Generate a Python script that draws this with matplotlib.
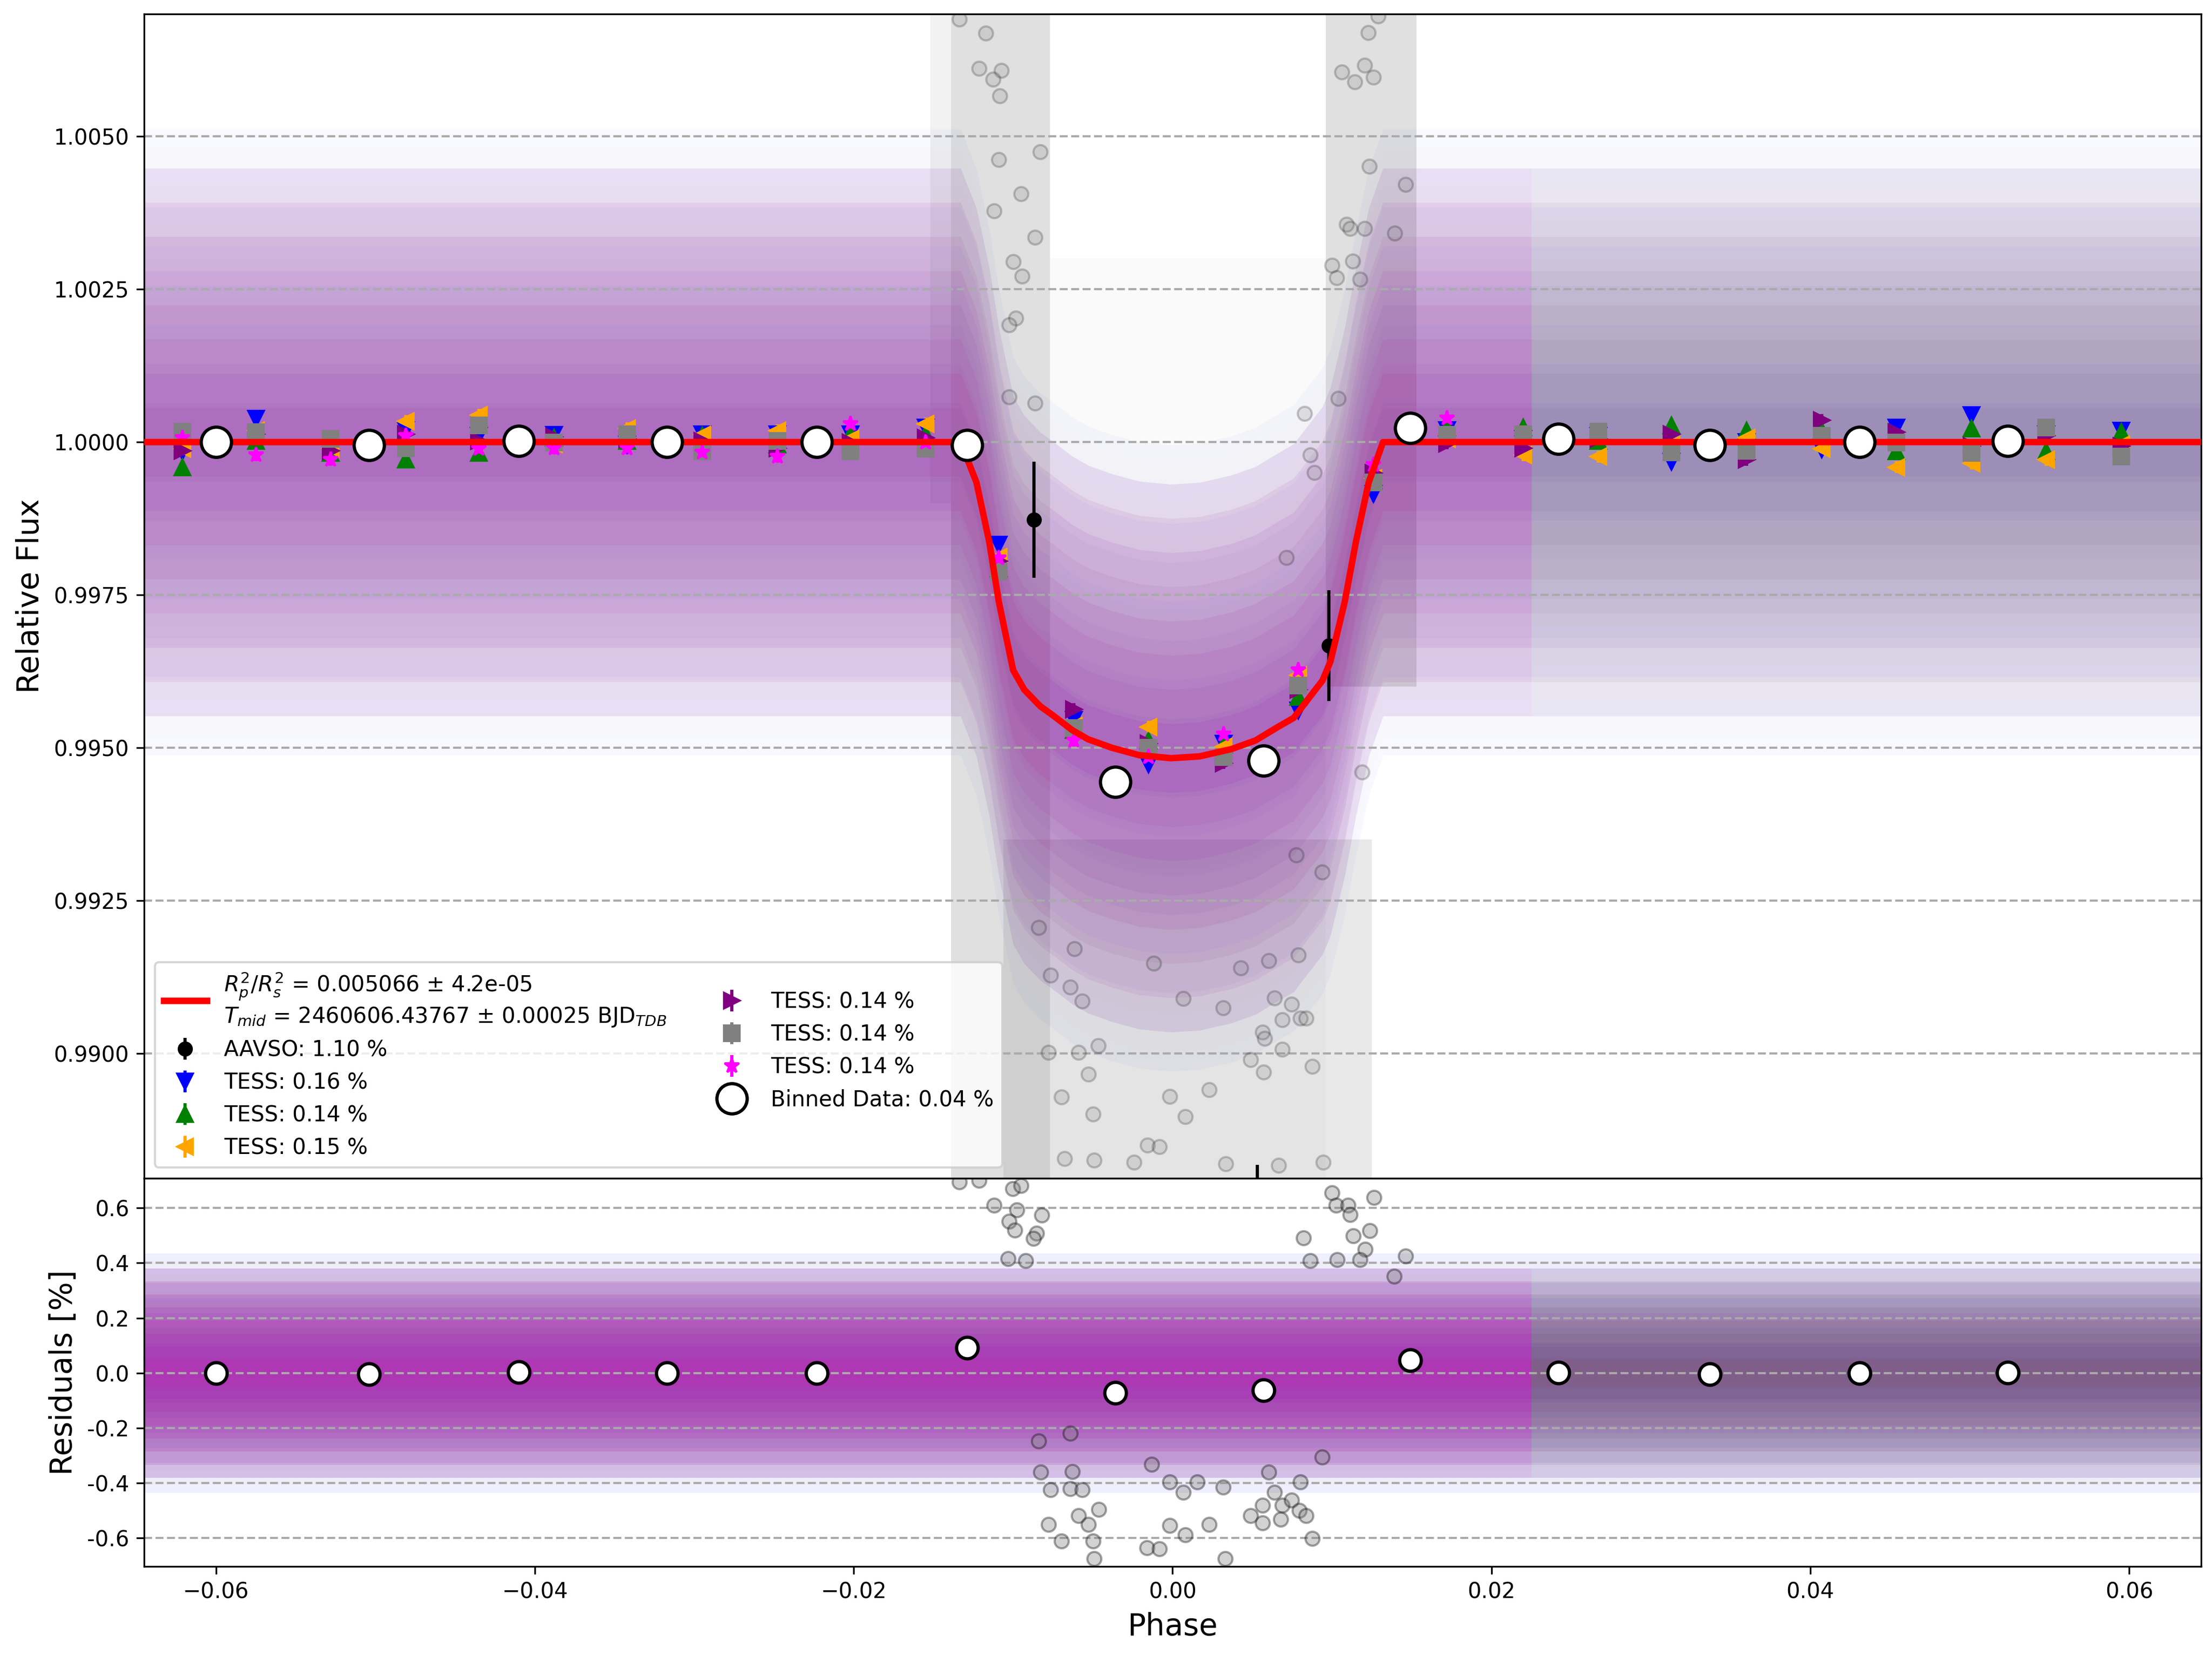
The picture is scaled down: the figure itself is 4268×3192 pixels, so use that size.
import numpy as np
import matplotlib
matplotlib.use('Agg')
import matplotlib.pyplot as plt
from matplotlib.ticker import FormatStrFormatter

# ---- transit model ----
model_phase = [-0.0645, -0.0133, -0.0123, -0.0115, -0.0109, -0.0100, -0.0093, -0.0083,
               -0.0075, -0.0063, -0.0053, -0.0038, -0.0021, -0.0001, 0.0017, 0.0037,
               0.0052, 0.0066, 0.0076, 0.0086, 0.0094, 0.0099, 0.0108, 0.0115,
               0.0123, 0.0132, 0.0225, 0.0645]
model_flux = [1.0, 1.0, 0.99934, 0.99837, 0.99739, 0.99627, 0.99595, 0.99568,
              0.99553, 0.99529, 0.99514, 0.99500, 0.99488, 0.99483, 0.99486, 0.99498,
              0.99512, 0.99534, 0.99549, 0.99583, 0.99610, 0.99641, 0.99739, 0.99837,
              0.99934, 1.0, 1.0, 1.0]

# ---- TESS datasets: rms scatter (%) and phase coverage ----
tess_labels = ['TESS: 0.16 %', 'TESS: 0.14 %', 'TESS: 0.15 %',
               'TESS: 0.14 %', 'TESS: 0.14 %', 'TESS: 0.14 %']
tess_rms = [0.16, 0.14, 0.15, 0.14, 0.14, 0.14]
tess_phase_max = [0.0645, 0.0645, 0.0645, 0.0645, 0.0645, 0.0225]

# per-dataset binned points
bin_phase = [-0.0621, -0.0575, -0.0528, -0.0481, -0.0435, -0.0388, -0.0342, -0.0295, -0.0248,
             -0.0202, -0.0155, -0.0109, -0.0062, -0.0015, 0.0032, 0.0079, 0.0126, 0.0172,
             0.0220, 0.0267, 0.0313, 0.0360, 0.0407, 0.0454, 0.0501, 0.0548, 0.0595]
bin_blue = [0.99985, 1.00038, 0.99990, 1.00020, 1.00010, 1.00012, 0.99996, 1.00013, 1.00013,
            1.00013, 1.00024, 0.99832, 0.99546, 0.99473, 0.99507, 0.99561, 0.99915, 1.00020,
            1.00005, 1.00010, 0.99968, 1.00000, 0.99988, 1.00024, 1.00044, 1.00013, 1.00019]
bin_green = [0.99959, 1.00002, 0.99982, 0.99971, 0.99982, 1.00007, 1.00002, 1.00010, 0.99996,
             1.00013, 1.00013, 0.99793, 0.99529, 0.99512, 0.99505, 0.99583, 0.99937, 1.00024,
             1.00024, 1.00002, 1.00027, 1.00019, 1.00019, 0.99985, 1.00022, 0.99985, 1.00016]
bin_orange = [0.99989, 1.00019, 0.99990, 1.00034, 1.00044, 0.99997, 1.00022, 1.00012, 1.00019,
              1.00005, 1.00030, 0.99812, 0.99536, 0.99534, 0.99502, 0.99619, 0.99941, 1.00005,
              0.99979, 0.99976, 0.99995, 1.00007, 0.99989, 0.99959, 0.99965, 0.99971, 0.99996]
bin_purple = [0.99986, 1.00013, 0.99986, 1.00013, 1.00002, 1.00009, 1.00005, 1.00002, 0.99990,
              0.99999, 1.00007, 0.99805, 0.99563, 0.99507, 0.99475, 0.99595, 0.99949, 0.99998,
              0.99990, 1.00005, 1.00013, 0.99971, 1.00036, 1.00016, 0.99993, 1.00010, 0.99993]
bin_grey = [1.00017, 1.00016, 1.00005, 0.99990, 1.00027, 0.99999, 1.00013, 0.99985, 1.00002,
            0.99985, 0.99989, 0.99788, 0.99532, 0.99500, 0.99485, 0.99602, 0.99934, 1.00012,
            1.00013, 1.00017, 0.99983, 0.99986, 1.00010, 0.99999, 0.99982, 1.00024, 0.99976]
bin_magenta = [1.00007, 0.99979, 0.99971, 1.00010, 0.99989, 0.99990, 0.99990, 0.99983, 0.99976,
               1.00030, 0.99999, 0.99810, 0.99512, 0.99485, 0.99522, 0.99627, 0.99963, 1.00039,
               np.nan, np.nan, np.nan, np.nan, np.nan, np.nan, np.nan, np.nan, np.nan]
bin_err = [0.00012, 0.00010, 0.00010, 0.00010, 0.00010, 0.00010]

# ---- AAVSO ----
aavso_bin_phase = [-0.0087, 0.0098, 0.0053]
aavso_bin_flux = [0.99873, 0.99667, 0.98728]
aavso_bin_err = [0.00095, 0.00091, 0.00090]

# individual AAVSO points visible in the flux panel
aavso_phase = [-0.01336, -0.01172, -0.01213, -0.01074, -0.01126, -0.01085, -0.01092, -0.00831,
               -0.00951, -0.01120, -0.00864, -0.01001, -0.00944, -0.00983, -0.01024,
               0.01290, 0.01226, 0.01062, 0.01142, 0.01204, 0.01260, 0.01233, 0.01460,
               0.01092, 0.01114, 0.01206, 0.01392, 0.01001, 0.01130, 0.01028, 0.01176,
               -0.01026, -0.00864, 0.00826, 0.01038, 0.00863, 0.00889, 0.00713, 0.01187,
               -0.00766, -0.00642, -0.00568, -0.00778, -0.00591, -0.00467, -0.00529, -0.00697,
               -0.00499, -0.00019, 0.00079, 0.00229, -0.00156, -0.00083, -0.00243, -0.00679,
               -0.00493, 0.00066, 0.00317, 0.00427, 0.00638, 0.00746, 0.00801, 0.00838,
               0.00689, 0.00563, 0.00577, 0.00689, 0.00490, 0.00572, 0.00876, 0.00333,
               0.00665, 0.00945, -0.00840, -0.00616, 0.00788, 0.00602, -0.00119, 0.00937,
               0.00776]
aavso_flux = [1.00692, 1.00669, 1.00611, 1.00608, 1.00593, 1.00566, 1.00462, 1.00475,
              1.00406, 1.00378, 1.00335, 1.00295, 1.00271, 1.00203, 1.00192,
              1.00697, 1.00670, 1.00605, 1.00589, 1.00616, 1.00597, 1.00451, 1.00421,
              1.00356, 1.00349, 1.00349, 1.00342, 1.00289, 1.00296, 1.00269, 1.00266,
              1.00074, 1.00064, 1.00047, 1.00071, 0.99979, 0.99950, 0.99811, 0.99460,
              0.99128, 0.99109, 0.99086, 0.99002, 0.99002, 0.99013, 0.98966, 0.98929,
              0.98901, 0.98930, 0.98897, 0.98941, 0.98850, 0.98848, 0.98822, 0.98828,
              0.98826, 0.99090, 0.99075, 0.99140, 0.99091, 0.99081, 0.99058, 0.99058,
              0.99055, 0.99035, 0.99025, 0.99007, 0.98990, 0.98970, 0.98979, 0.98820,
              0.98817, 0.98822, 0.99206, 0.99171, 0.99161, 0.99152, 0.99148, 0.99297,
              0.99325]

# AAVSO residuals (%)
aavso_res_phase = [-0.01338, -0.01214, -0.01003, -0.00952, -0.01120, -0.00977, -0.00821, -0.01027,
                   -0.00990, -0.00853, -0.00873, -0.01032, -0.00920, 0.00999, 0.01025, 0.01100,
                   0.01113, 0.01262, 0.00820, 0.01132, 0.01236, 0.01207, 0.01175, 0.00862,
                   0.01460, 0.01391, 0.01032,
                   -0.00827, -0.00766, -0.00642, -0.00568, -0.00629, -0.00463, -0.00591, -0.00529,
                   -0.00779, -0.00697, -0.00499, -0.00161, -0.00083, -0.00132, -0.00019, 0.00066,
                   0.00154, 0.00317, -0.00019, 0.00079, 0.00229, 0.00490, 0.00563, 0.00638,
                   0.00689, 0.00746, 0.00796, 0.00838, 0.00563, 0.00677, 0.00876, 0.00801,
                   0.00602, 0.00937, 0.00329, -0.00493, -0.00840, -0.00642]
aavso_res = [0.694, 0.700, 0.671, 0.681, 0.610, 0.592, 0.574, 0.551,
             0.519, 0.508, 0.489, 0.416, 0.408, 0.656, 0.610, 0.610,
             0.575, 0.638, 0.491, 0.499, 0.517, 0.449, 0.412, 0.408,
             0.425, 0.352, 0.412,
             -0.360, -0.425, -0.421, -0.425, -0.359, -0.496, -0.518, -0.551,
             -0.551, -0.611, -0.611, -0.636, -0.639, -0.332, -0.397, -0.434,
             -0.397, -0.416, -0.555, -0.589, -0.551, -0.518, -0.481, -0.434,
             -0.481, -0.462, -0.500, -0.518, -0.545, -0.532, -0.602, -0.397,
             -0.360, -0.305, -0.676, -0.676, -0.248, -0.220]

# envelope of the AAVSO error bars in the flux panel
aavso_band_start = [-0.0152, -0.0139, -0.0106, -0.0077, 0.0096]
aavso_band_end = [-0.0139, -0.0077, 0.0125, 0.0096, 0.0153]
aavso_band_low = [0.9990, 0.9870, 0.9870, 0.9870, 0.9960]
aavso_band_high = [1.0075, 1.0075, 0.9935, 1.0030, 1.0075]

# ---- overall binned data ----
binned_phase = [-0.0600, -0.0504, -0.0410, -0.0317, -0.0223, -0.0129, -0.0036, 0.0057,
                0.0149, 0.0242, 0.0337, 0.0431, 0.0524]
binned_flux = [1.00000, 0.99995, 1.00002, 1.00000, 1.00000, 0.99995, 0.99444, 0.99479,
               1.00023, 1.00005, 0.99995, 1.00000, 1.00002]
binned_res = [0.0, -0.005, 0.003, 0.0, 0.0, 0.092, -0.072, -0.062,
              0.046, 0.002, -0.005, 0.0, 0.002]

# ---- styles ----
tess_colors = ['blue', 'green', 'orange', 'purple', 'grey', 'magenta']
tess_markers = ['v', '^', '<', '>', 's', '*']
tess_weight = [1.4, 0.6, 0.5, 1.2, 0.7, 1.3]
tess_bins = [bin_blue, bin_green, bin_orange, bin_purple, bin_grey, bin_magenta]
band_shade = [0.10, 0.24, 0.17, 0.04, 0.24]
spread = [0.4, 0.8, 1.2, 1.6, 2.0, 2.4, 2.8, 3.2]

fig, (ax1, ax2) = plt.subplots(2, 1, sharex=True, figsize=(14.2267, 10.64),
                               gridspec_kw={'height_ratios': [3, 1]})
fig.subplots_adjust(left=0.0652, right=0.995, top=0.9915, bottom=0.053, hspace=0)

mp = np.array(model_phase)
mf = np.array(model_flux)

# AAVSO error-bar envelope (grey)
for x0, x1, lo, hi, sh in zip(aavso_band_start, aavso_band_end, aavso_band_low,
                              aavso_band_high, band_shade):
    ax1.fill_between([x0, x1], lo, hi, color='grey', alpha=sh, lw=0, zorder=0.5)

# TESS scatter clouds around the model
for col, rms, pmax, w in zip(tess_colors, tess_rms, tess_phase_max, tess_weight):
    sig = rms / 100.0
    inside = mp <= pmax + 1e-9
    for k in spread:
        ax1.fill_between(mp, mf - k * sig, mf + k * sig, where=inside,
                         color=col, alpha=0.021 * w, lw=0, zorder=1)
        ax2.fill_between(mp, -k * rms * 0.85, k * rms * 0.85, where=inside,
                         color=col, alpha=0.045 * w, lw=0, zorder=1)

# individual AAVSO points
ax1.plot(aavso_phase, aavso_flux, 'o', mfc='grey', mec='black', alpha=0.2, ms=6.5, zorder=2)
ax2.plot(aavso_res_phase, aavso_res, 'o', mfc='grey', mec='black', alpha=0.35, ms=6.5, zorder=2)

# binned AAVSO
h_aavso = ax1.errorbar(aavso_bin_phase, aavso_bin_flux, yerr=aavso_bin_err, fmt='o',
                       color='black', ms=6, elinewidth=1.5, label='AAVSO: 1.10 %', zorder=3)

# binned TESS per dataset
h_tess = []
for vals, col, mk, lab, err in zip(tess_bins, tess_colors, tess_markers, tess_labels, bin_err):
    h = ax1.errorbar(bin_phase, vals, yerr=err, fmt=mk, color=col, ms=7,
                     elinewidth=1.5, label=lab, zorder=3)
    h_tess.append(h)

# model
h_model, = ax1.plot(model_phase, model_flux, color='red', lw=3, zorder=4,
                    label='$R^2_p/R^2_s$ = 0.005066 ± 4.2e-05\n'
                          '$T_{mid}$ = 2460606.43767 ± 0.00025 BJD$_{TDB}$')

# overall binned data
h_bin, = ax1.plot(binned_phase, binned_flux, 'o', mfc='white', mec='black', mew=1.5, ms=14,
                  label='Binned Data: 0.04 %', zorder=5)
ax2.plot(binned_phase, binned_res, 'o', mfc='white', mec='black', mew=1.5, ms=10, zorder=5)

handles = [h_model, h_aavso] + h_tess + [h_bin]
ax1.legend(handles, [h.get_label() for h in handles], loc='lower left', ncol=2, fontsize=10)

ax1.set_xlim(-0.0645, 0.0645)
ax1.set_ylim(0.98796, 1.0070)
ax1.set_yticks([0.9900, 0.9925, 0.9950, 0.9975, 1.0000, 1.0025, 1.0050])
ax1.yaxis.set_major_formatter(FormatStrFormatter('%.4f'))
ax1.set_ylabel('Relative Flux', fontsize=14)
ax1.yaxis.grid(True, linestyle='--', color='#aaaaaa', lw=1)
ax1.tick_params(axis='x', which='both', length=0)

ax2.set_ylim(-0.703, 0.708)
ax2.set_yticks([-0.6, -0.4, -0.2, 0.0, 0.2, 0.4, 0.6])
ax2.yaxis.set_major_formatter(FormatStrFormatter('%.1f'))
ax2.set_xticks([-0.06, -0.04, -0.02, 0.0, 0.02, 0.04, 0.06])
ax2.set_ylabel('Residuals [%]', fontsize=14)
ax2.set_xlabel('Phase', fontsize=14)
ax2.yaxis.grid(True, linestyle='--', color='#aaaaaa', lw=1)

fig.savefig('out.png', dpi=300)
